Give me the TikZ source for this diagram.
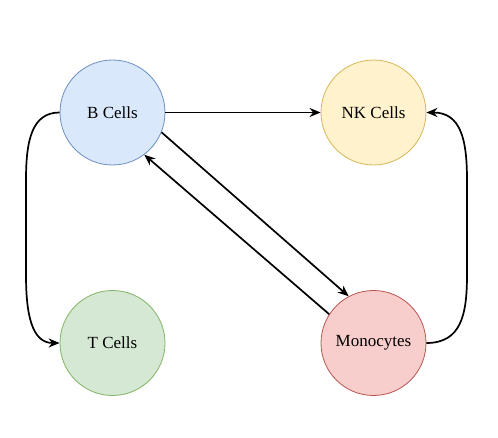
\documentclass[tikz,border=0pt]{standalone}
\usepackage{fontspec}
\setmainfont{Liberation Serif}
\usetikzlibrary{arrows.meta}
\definecolor{bfill}{HTML}{DAE8FC}\definecolor{bdraw}{HTML}{6C8EBF}
\definecolor{nfill}{HTML}{FFF2CC}\definecolor{ndraw}{HTML}{D6B656}
\definecolor{tfill}{HTML}{D5E8D4}\definecolor{tdraw}{HTML}{82B366}
\definecolor{mfill}{HTML}{F8CECC}\definecolor{mdraw}{HTML}{B85450}
\begin{document}
\begin{tikzpicture}[x=1pt,y=-1pt,
  cell/.style={circle,minimum size=105pt,inner sep=0pt,line width=0.8pt,font=\fontsize{17}{19}\selectfont},
  conn/.style={line width=1.7pt,-{Stealth[length=11pt,width=9pt,inset=3.5pt]}}]
\useasboundingbox (0,0) rectangle (498,438);
\node[cell,fill=bfill,draw=bdraw] (b) at (112.5,112.5) {B Cells};
\node[cell,fill=nfill,draw=ndraw] (nk) at (373.5,112.5) {NK Cells};
\node[cell,fill=tfill,draw=tdraw] (t) at (112.5,343) {T Cells};
\node[cell,fill=mfill,draw=mdraw] (m) at (373.5,343) {Monocytes};
\draw[conn] (b.east) -- (nk.west);
\draw[conn] (b.-22) -- (m.118);
\draw[conn] (m.147) -- (b.-53);
\draw[conn] (b.west) .. controls (32,112.5) and (26,140) .. (26,180) -- (26,275) .. controls (26,315) and (32,343) .. (t.west);
\draw[conn] (m.east) .. controls (461,343) and (467,315) .. (467,275) -- (467,180) .. controls (467,140) and (461,112.5) .. (nk.east);
\end{tikzpicture}
\end{document}
